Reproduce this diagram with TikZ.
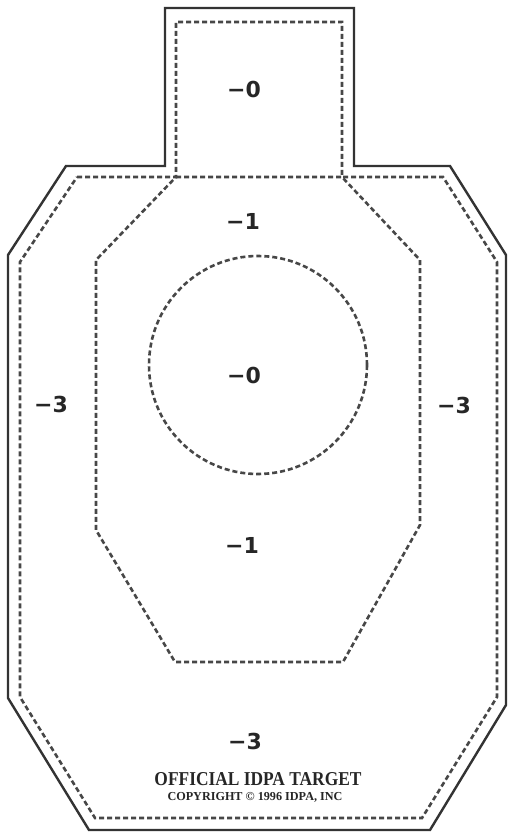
\documentclass[tikz,border=0pt]{standalone}
\usepackage{fontspec}
\usepackage{graphicx}
\setmainfont{DejaVu Sans}
\newfontfamily\serifbold{Liberation Serif}
\begin{document}
\begin{tikzpicture}[x=1pt,y=-1pt,
  outline/.style={draw=black!80, line width=2.4pt, line join=miter},
  zone/.style={draw=black!72, line width=2.6pt, dash pattern=on 5pt off 3pt},
  score/.style={font=\fontsize{22}{24}\selectfont\bfseries, text=black!85, inner sep=0pt}]
\useasboundingbox[fill=white] (0,0) rectangle (510,834);
% outer solid outline
\draw[outline] (165,8) -- (354,8) -- (354,166) -- (450,166) -- (506,255) -- (506,705)
  -- (430,830) -- (89,830) -- (8,698) -- (8,255) -- (66,166) -- (165,166) -- cycle;
% -3 zone boundary (dashed, inset)
\draw[zone] (77,177) -- (176,177) -- (176,22) -- (342,22) -- (342,177) -- (443,177)
  -- (497,262) -- (497,697) -- (422,818) -- (95,818) -- (20,697) -- (20,262) -- cycle;
% -1 zone (octagon)
\draw[zone] (176,177) -- (342,177) -- (420,260) -- (420,525) -- (343,662)
  -- (175,662) -- (96,530) -- (96,260) -- cycle;
% -0 circle
\draw[zone] (258,365) circle [radius=109];
% labels
\node[score] (head) at (244,89) {−0};
\node[score] (upper) at (243,221) {−1};
\node[score] (center) at (244,375) {−0};
\node[score] (left) at (51,404) {−3};
\node[score] (right) at (454,405) {−3};
\node[score] (lower) at (242,545) {−1};
\node[score] (bottom) at (245,741) {−3};
\node[inner sep=0pt, text=black!85] (title) at (258,779)
  {\resizebox{207pt}{13pt}{\serifbold\bfseries OFFICIAL IDPA TARGET}};
\node[inner sep=0pt, text=black!85] (copy) at (255,797.5)
  {\resizebox{175pt}{!}{\serifbold\bfseries COPYRIGHT © 1996 IDPA, INC}};
\end{tikzpicture}
\end{document}
